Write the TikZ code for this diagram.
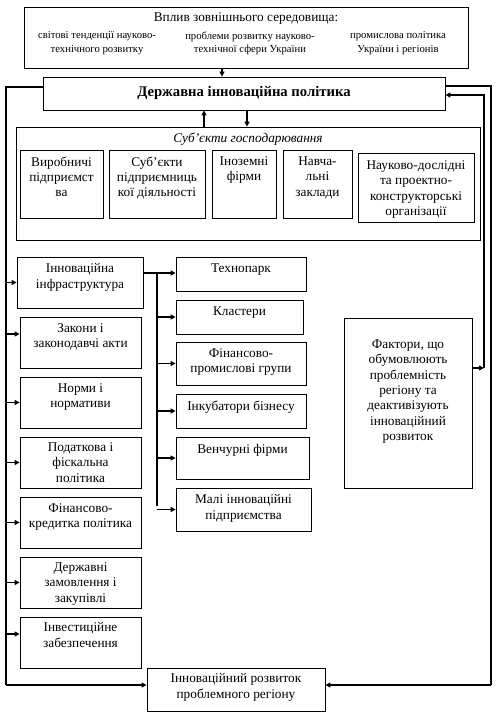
\documentclass[tikz,border=0pt]{standalone}
\usepackage{fontspec}
\setmainfont{Liberation Serif}
\usetikzlibrary{arrows.meta,calc,fit}
\tikzset{
  box/.style={draw, line width=0.8pt, inner sep=0pt},
  txt/.style={anchor=north, align=center, inner sep=0pt, font=\fontsize{13.3}{15.3}\selectfont},
  small/.style={anchor=north, align=center, inner sep=0pt, font=\fontsize{10.7}{13.5}\selectfont},
  ln/.style={line width=1.3pt},
  arr/.style={line width=1.3pt, -{Triangle[length=5pt,width=5pt]}},
}
\newcommand\bx[7]{%
  \node[box, fit={(#2,#3) (#4,#5)}] (#1) {};
  \node[txt] (#1t) at ([yshift=-#6pt]#1.north) {#7};}
\begin{document}
\begin{tikzpicture}[x=1pt,y=-1pt]
\useasboundingbox (0,0) rectangle (498,721);
% top box
\node[box, fit={(24,7) (468,68)}] (top) {};
\node[txt] (topt) at ([yshift=-6pt]top.north) {Вплив зовнішнього середовища:};
\node[small] (topa) at (97,31.5) {світові тенденції науково-\\технічного розвитку};
\node[small] (topb) at (250,31.5) {проблеми розвитку науково-\\технічної сфери України};
\node[small] (topc) at (398,31.5) {промислова політика\\України і регіонів};
% state policy
\node[box, fit={(43,77) (445,110)}] (state) {};
\node[anchor=center, inner sep=0pt, font=\bfseries\fontsize{14.7}{16}\selectfont] (statet) at ([yshift=1pt]state.center) {Державна інноваційна політика};
% subjects
\node[box, fit={(16,127) (480,240)}] (subj) {};
\node[txt, font=\itshape\fontsize{13.3}{15.3}\selectfont] (subjt) at ([yshift=-6pt]subj.north) {Суб’єкти господарювання};
\bx{s1}{20}{150}{103}{218}{7}{Виробничі\\підприємст\\ва}
\bx{s2}{109}{150}{205}{218}{7}{Суб’єкти\\підприємниць\\кої діяльності}
\bx{s3}{212}{150}{276}{218}{7}{Іноземні\\фірми}
\bx{s4}{283}{150}{352}{218}{7}{Навча-\\льні\\заклади}
\bx{s5}{358}{153}{474}{222}{8}{Науково-дослідні\\та проектно-\\конструкторські\\організації}
% left column
\bx{L1}{17}{257}{143}{308}{7}{Інноваційна\\інфраструктура}
\bx{L2}{20}{317}{141}{368}{7}{Закони і\\законодавчі акти}
\bx{L3}{20}{377}{141}{428}{7}{Норми і\\нормативи}
\bx{L4}{20}{437}{141}{488}{6}{Податкова і\\фіскальна\\політика}
\bx{L5}{20}{497}{141}{548}{7}{Фінансово-\\кредитка політика}
\bx{L6}{20}{557}{141}{608}{6}{Державні\\замовлення і\\закупівлі}
\bx{L7}{20}{617}{141}{668}{6}{Інвестиційне\\забезпечення}
% right (infrastructure) column
\bx{R1}{176}{257}{306}{291}{7}{Технопарк}
\bx{R2}{176}{300}{303}{334}{7}{Кластери}
\bx{R3}{176}{342}{306}{385}{7}{Фінансово-\\промислові групи}
\bx{R4}{176}{394}{306}{428}{7}{Інкубатори бізнесу}
\bx{R5}{176}{437}{309}{479}{7}{Венчурні фірми}
\bx{R6}{176}{488}{311}{531}{7}{Малі інноваційні\\підприємства}
% factors
\bx{F}{344}{318}{472}{488}{22}{Фактори, що\\обумовлюють\\проблемність\\регіону та\\деактивізують\\інноваційний\\розвиток}
% bottom
\bx{B}{147}{668}{325}{711}{6}{Інноваційний розвиток\\проблемного регіону}
% connectors
\draw[arr] ([xshift=-24pt]top.south) -- ([xshift=-24pt]top.south |- state.north);
\draw[arr] ([xshift=-44pt]subj.north) -- ([xshift=-44pt]subj.north |- state.south);
\draw[arr] ([xshift=3pt]state.south) -- ([xshift=3pt]state.south |- subj.north);
% left trunk
\coordinate (lt) at (6,87);
\coordinate (lb) at (6,685);
\draw[ln] ([yshift=6.5pt]state.west) -- (lt) -- (lb);
\draw[arr] (lb) -- (lb -| B.west);
\foreach \n/\s in {L1/0,L2/8.5,L3/0,L4/0,L5/0,L6/0,L7/8.5}{
  \draw[arr] ([yshift=\s pt]lt |- \n.west) -- ([yshift=\s pt]\n.west);
}
% right trunk to bottom
\coordinate (rt) at (491,86);
\coordinate (rb) at (491,685);
\draw[ln] ([yshift=7.5pt]state.east) -- (rt) -- (rb);
\draw[arr] (rb) -- (rb -| B.east);
% factors to state
\coordinate (fc) at (484,368);
\draw[arr] (F.east |- fc) -- (fc);
\draw[arr] (fc) -- (484,95) -- ([yshift=-1.5pt]state.east);
% infrastructure
\coordinate (it) at (157,273);
\coordinate (ib) at (157,506);
\draw[ln] ([yshift=9.5pt]L1.east) -- (it) -- (ib);
\draw[arr] (it) -- (it -| R1.west);
\foreach \n in {R2,R3,R4,R5,R6}{
  \draw[arr] (it |- \n.west) -- (\n.west);
}
\end{tikzpicture}
\end{document}
